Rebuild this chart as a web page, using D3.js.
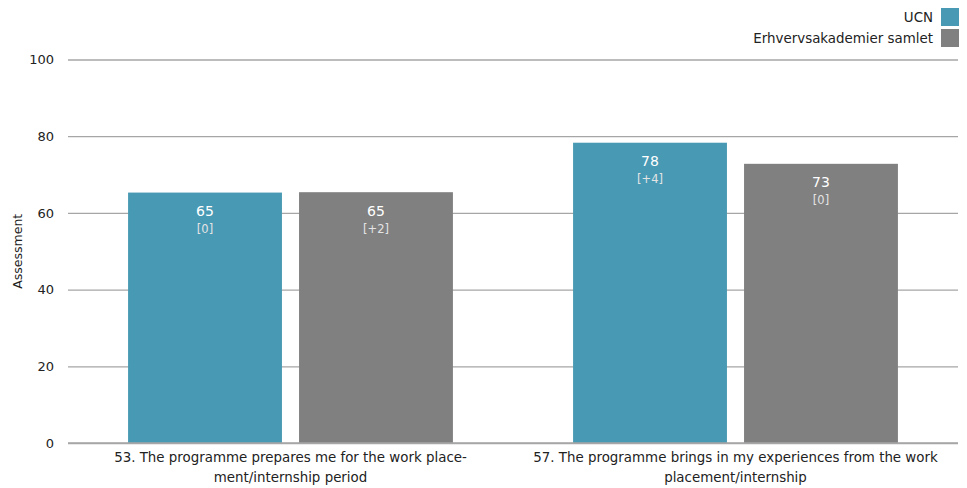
<!DOCTYPE html>
<html><head><meta charset="utf-8">
<script src="https://cdn.jsdelivr.net/npm/d3@7"></script>
<style>
body{margin:0;background:#fff;}
text{font-family:"DejaVu Sans",sans-serif;}
</style></head><body>
<svg id="c" width="967" height="488"></svg>
<script>
const categories = ["53. The programme prepares me for the work place-|ment/internship period", "57. The programme brings in my experiences from the work|placement/internship"];
const seriesNames = ["UCN", "Erhvervsakademier samlet"];
const ucnValues = [65.3, 78.3];
const totalValues = [65.4, 72.8];
const ucnLabels = ["65", "78"];
const totalLabels = ["65", "73"];
const ucnChanges = ["[0]", "[+4]"];
const totalChanges = ["[+2]", "[0]"];
const yTicks = [0, 20, 40, 60, 80, 100];
const colors = ["#4899b4", "#808080"];

const svg = d3.select("#c");
const mLeft = 68, mRight = 958, mTop = 59.5, mBottom = 443;
const y = d3.scaleLinear().domain([0, 100]).range([mBottom, mTop]);
const x0 = d3.scaleBand().domain(categories).range([mLeft, mRight]).paddingInner(0.27).paddingOuter(0.135);
const x1 = d3.scaleBand().domain(seriesNames).range([0, x0.bandwidth()]).paddingInner(0.1);

// grid
const yAxis = d3.axisLeft(y).tickValues(yTicks).tickSize(-(mRight - mLeft)).tickPadding(14);
const gy = svg.append("g").attr("transform", `translate(${mLeft},0)`).call(yAxis);
gy.select(".domain").remove();
gy.selectAll(".tick line").attr("stroke", "#a6a6a6").attr("stroke-width", 1.3);
gy.selectAll(".tick text").attr("font-size", 13).attr("fill", "#222").attr("font-family", "DejaVu Sans");

svg.append("text").attr("transform", `translate(22,${(mTop + mBottom) / 2}) rotate(-90)`)
  .attr("text-anchor", "middle").attr("font-size", 12.5).attr("fill", "#222").text("Assessment");

const data = categories.map((c, i) => ({
  cat: c,
  vals: [
    {s: seriesNames[0], v: ucnValues[i], lab: ucnLabels[i], ch: ucnChanges[i]},
    {s: seriesNames[1], v: totalValues[i], lab: totalLabels[i], ch: totalChanges[i]}
  ]
}));

const g = svg.selectAll(".grp").data(data).join("g")
  .attr("transform", d => `translate(${x0(d.cat)},0)`);
g.selectAll("rect").data(d => d.vals).join("rect")
  .attr("x", d => x1(d.s)).attr("width", x1.bandwidth())
  .attr("y", d => y(d.v)).attr("height", d => y(0) - y(d.v))
  .attr("fill", (d, i) => colors[i]);
g.selectAll(".vl").data(d => d.vals).join("text").attr("class", "vl")
  .attr("x", d => x1(d.s) + x1.bandwidth() / 2).attr("y", d => y(d.v) + 23.5)
  .attr("text-anchor", "middle").attr("font-size", 14).attr("fill", "#fff").text(d => d.lab);
g.selectAll(".cl").data(d => d.vals).join("text").attr("class", "cl")
  .attr("x", d => x1(d.s) + x1.bandwidth() / 2).attr("y", d => y(d.v) + 40.5)
  .attr("text-anchor", "middle").attr("font-size", 11.5).attr("fill", "#e4e4e4").text(d => d.ch);

// x axis baseline
svg.append("line").attr("x1", mLeft).attr("x2", mRight).attr("y1", y(0)).attr("y2", y(0))
  .attr("stroke", "#a6a6a6").attr("stroke-width", 1.5);

// x labels
const xl = svg.selectAll(".xl").data(categories).join("text").attr("class", "xl")
  .attr("text-anchor", "middle").attr("font-size", 13.4).attr("fill", "#222");
xl.each(function(d) {
  const parts = d.split("|");
  const t = d3.select(this);
  parts.forEach((p, i) => t.append("tspan").attr("x", x0(d) + x0.bandwidth() / 2).attr("y", 461.5 + i * 20).text(p));
});

// legend
const lg = svg.selectAll(".lg").data(seriesNames).join("g").attr("class", "lg")
  .attr("transform", (d, i) => `translate(0,${8 + i * 21})`);
lg.append("rect").attr("x", 941).attr("y", 0).attr("width", 18).attr("height", 18).attr("fill", (d, i) => colors[i]);
lg.append("text").attr("x", 933).attr("y", 14).attr("text-anchor", "end").attr("font-size", 13.4).attr("fill", "#222").text(d => d);
</script>
</body></html>
